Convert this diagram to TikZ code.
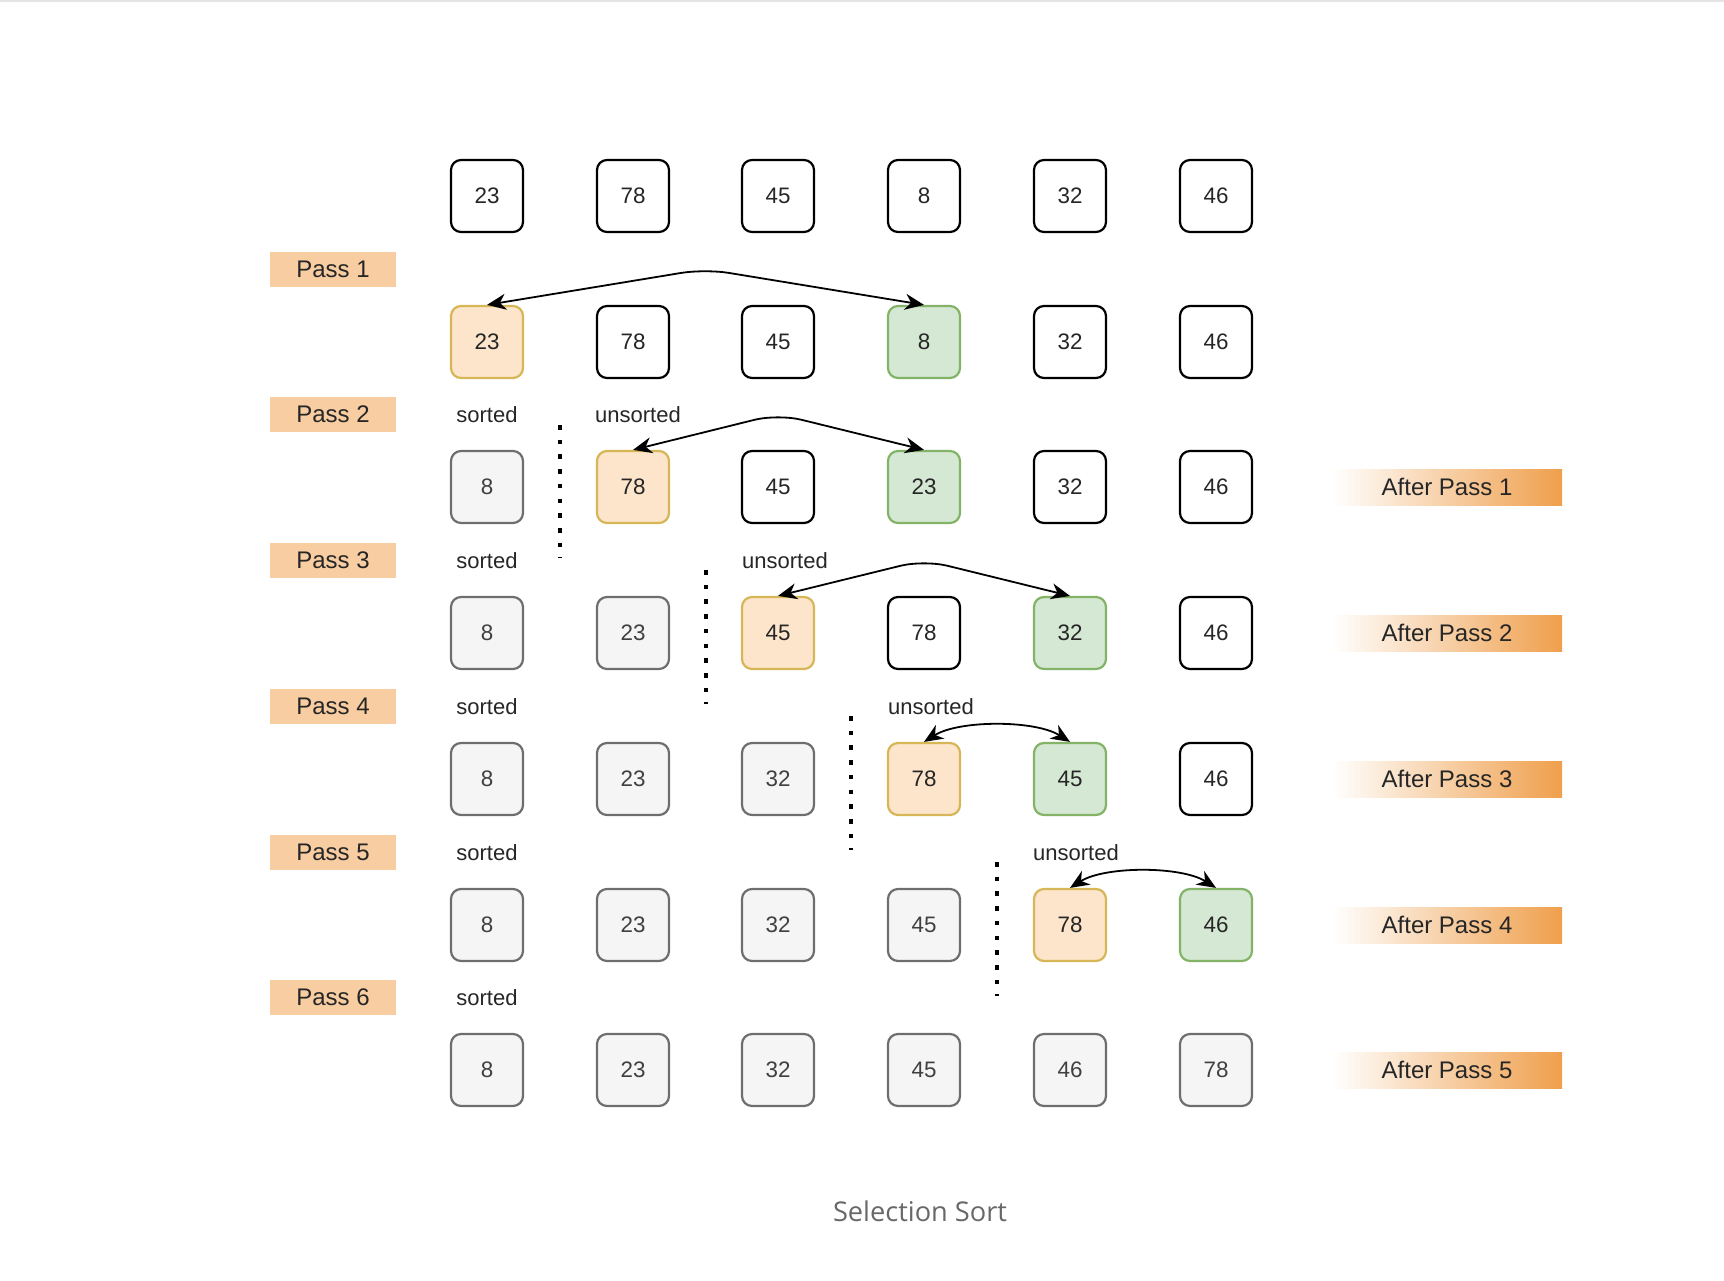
\documentclass[tikz,border=0pt]{standalone}
\usepackage{fontspec}
\setmainfont{Liberation Sans}
\newfontfamily\captionfont{Open Sans}
\usepackage{tikz}
\usetikzlibrary{arrows.meta}

\definecolor{passfill}{HTML}{F8CDA2}
\definecolor{afterfill}{HTML}{EF9F4C}
\definecolor{minfill}{HTML}{FCE5CB}
\definecolor{mindraw}{HTML}{D6B656}
\definecolor{swapfill}{HTML}{D5E8D4}
\definecolor{swapdraw}{HTML}{82B366}
\definecolor{donefill}{HTML}{F5F5F5}
\definecolor{donedraw}{HTML}{6E6E6E}
\definecolor{capgray}{HTML}{686868}
\definecolor{topline}{HTML}{E4E4E4}

\begin{document}
\begin{tikzpicture}[x=0.5pt,y=-0.5pt,
  cell/.style={draw=black,fill=white,line width=1.1pt,rounded corners=5pt,minimum size=36pt,inner sep=0pt,font=\fontsize{11.2}{13}\selectfont,text=black!85},
  mincell/.style={cell,draw=mindraw,fill=minfill},
  swapcell/.style={cell,draw=swapdraw,fill=swapfill},
  donecell/.style={cell,draw=donedraw,fill=donefill,text=black!75},
  passbox/.style={fill=passfill,minimum width=63pt,minimum height=17.5pt,inner sep=0pt,font=\fontsize{12}{14}\selectfont,text=black!85},
  afterbox/.style={left color=white,right color=afterfill,minimum width=115pt,minimum height=18pt,inner sep=0pt,font=\fontsize{12}{14}\selectfont,text=black!85},
  part/.style={inner sep=0pt,font=\fontsize{11}{13}\selectfont,text=black!85},
  divider/.style={line width=2.3pt,dash pattern=on 2.3pt off 5.05pt},
  swaparrow/.style={{Stealth[length=9.5pt,width=8pt,inset=3pt]}-{Stealth[length=9.5pt,width=8pt,inset=3pt]},line width=0.9pt}]

\useasboundingbox (0,0) rectangle (1724,1280);
\draw[topline,line width=1pt] (0,1) -- (1724,1);

%first row
\node[cell] (a0) at (487,196) {23};
\node[cell] (a1) at (633,196) {78};
\node[cell] (a2) at (778,196) {45};
\node[cell] (a3) at (924,196) {8};
\node[cell] (a4) at (1070,196) {32};
\node[cell] (a5) at (1216,196) {46};

%second row
\node[mincell] (b0) at (487,342) {23};
\node[cell] (b1) at (633,342) {78};
\node[cell] (b2) at (778,342) {45};
\node[swapcell] (b3) at (924,342) {8};
\node[cell] (b4) at (1070,342) {32};
\node[cell] (b5) at (1216,342) {46};

%third row
\node[donecell] (c0) at (487,487) {8};
\node[mincell] (c1) at (633,487) {78};
\node[cell] (c2) at (778,487) {45};
\node[swapcell] (c3) at (924,487) {23};
\node[cell] (c4) at (1070,487) {32};
\node[cell] (c5) at (1216,487) {46};

%fourth row
\node[donecell] (d0) at (487,633) {8};
\node[donecell] (d1) at (633,633) {23};
\node[mincell] (d2) at (778,633) {45};
\node[cell] (d3) at (924,633) {78};
\node[swapcell] (d4) at (1070,633) {32};
\node[cell] (d5) at (1216,633) {46};

%fifth row
\node[donecell] (e0) at (487,779) {8};
\node[donecell] (e1) at (633,779) {23};
\node[donecell] (e2) at (778,779) {32};
\node[mincell] (e3) at (924,779) {78};
\node[swapcell] (e4) at (1070,779) {45};
\node[cell] (e5) at (1216,779) {46};

%sixth row
\node[donecell] (f0) at (487,925) {8};
\node[donecell] (f1) at (633,925) {23};
\node[donecell] (f2) at (778,925) {32};
\node[donecell] (f3) at (924,925) {45};
\node[mincell] (f4) at (1070,925) {78};
\node[swapcell] (f5) at (1216,925) {46};

%last row
\node[donecell] (g0) at (487,1070) {8};
\node[donecell] (g1) at (633,1070) {23};
\node[donecell] (g2) at (778,1070) {32};
\node[donecell] (g3) at (924,1070) {45};
\node[donecell] (g4) at (1070,1070) {46};
\node[donecell] (g5) at (1216,1070) {78};

%passes
\node[passbox] (pass1) at (333,269) {Pass 1};
\node[passbox] (pass2) at (333,414) {Pass 2};
\node[passbox] (pass3) at (333,560) {Pass 3};
\node[passbox] (pass4) at (333,706) {Pass 4};
\node[passbox] (pass5) at (333,852) {Pass 5};
\node[passbox] (pass6) at (333,997) {Pass 6};

\node[afterbox] (after1) at (1447,487) {After Pass 1};
\node[afterbox] (after2) at (1447,633) {After Pass 2};
\node[afterbox] (after3) at (1447,779) {After Pass 3};
\node[afterbox] (after4) at (1447,925) {After Pass 4};
\node[afterbox] (after5) at (1447,1070) {After Pass 5};

%sorted / unsorted parts
\node[part] (sorted2) at (487,415) {sorted};
\node[part] (sorted3) at (487,561) {sorted};
\node[part] (sorted4) at (487,707) {sorted};
\node[part] (sorted5) at (487,853) {sorted};
\node[part] (sorted6) at (487,998) {sorted};

\node[part] (unsorted2) at (638,415) {unsorted};
\node[part] (unsorted3) at (785,561) {unsorted};
\node[part] (unsorted4) at (931,707) {unsorted};
\node[part] (unsorted5) at (1076,853) {unsorted};

\draw[divider] (560,425) -- (560,558);
\draw[divider] (706,570) -- (706,704);
\draw[divider] (851,716) -- (851,850);
\draw[divider] (997,862) -- (997,996);

%swaps
\coordinate (top1) at (705,269);
\coordinate (top2) at (778,414);
\coordinate (top3) at (924,560);

\draw[swaparrow,rounded corners=12pt] (b0.north) -- (top1) -- (b3.north);
\draw[swaparrow,rounded corners=12pt] (c1.north) -- (top2) -- (c3.north);
\draw[swaparrow,rounded corners=12pt] (d2.north) -- (top3) -- (d4.north);
\draw[swaparrow] (e3.north) .. controls +(35,-22) and +(-35,-22) .. (e4.north);
\draw[swaparrow] (f4.north) .. controls +(35,-22) and +(-35,-22) .. (f5.north);

\node[font=\captionfont\fontsize{13.6}{16}\selectfont,text=capgray] (caption) at (920,1211) {Selection Sort};

\end{tikzpicture}
\end{document}
